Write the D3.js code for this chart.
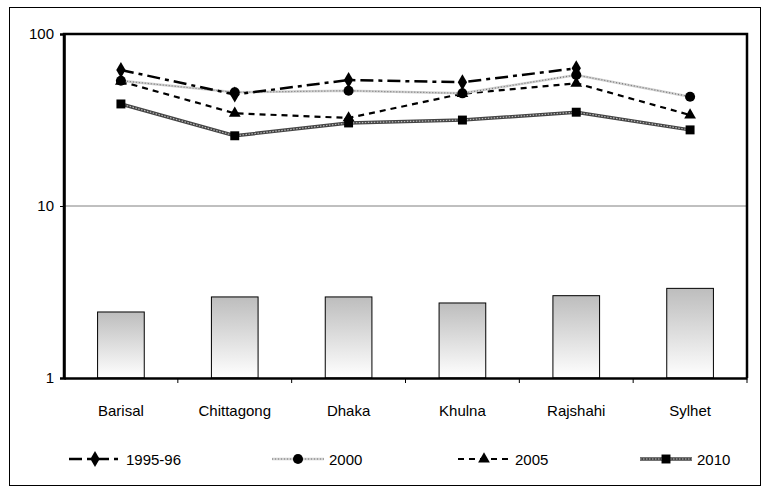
<!DOCTYPE html>
<html>
<head>
<meta charset="utf-8">
<title>Divisions</title>
<script src="https://d3js.org/d3.v7.min.js"></script>
<style>
  body { margin: 0; background: #fff; }
  text { font-family: "Liberation Sans", Arial, sans-serif; }
</style>
</head>
<body>
<div id="my_dataviz"></div>
<script>

// data
var categories = ["Barisal", "Chittagong", "Dhaka", "Khulna", "Rajshahi", "Sylhet"];
var barValues = [2.42, 2.96, 2.96, 2.73, 3.01, 3.32];
var s1995 = [61.8, 44.5, 54.0, 52.4, 63.2, null];
var s2000 = [53.5, 45.8, 46.8, 45.2, 57.8, 43.2];
var s2005 = [53.0, 34.6, 32.5, 45.0, 51.7, 33.8];
var s2010 = [39.2, 25.6, 30.4, 31.6, 35.1, 27.7];
var yTicks = [1, 10, 100];
var seriesNames = ["1995-96", "2000", "2005", "2010"];

var W = 769, H = 496;
var margin = {top: 34, right: 22, bottom: 118, left: 64},
    width = W - margin.left - margin.right,
    height = H - margin.top - margin.bottom;

var svg = d3.select("#my_dataviz")
  .append("svg")
    .attr("width", W)
    .attr("height", H);

// outer frame
svg.append("rect")
  .attr("x", 9.5).attr("y", 7.5)
  .attr("width", 751).attr("height", 478)
  .attr("fill", "none").attr("stroke", "#000").attr("stroke-width", 1);

var defs = svg.append("defs");
var grad = defs.append("linearGradient")
  .attr("id", "barGrad").attr("x1", 0).attr("y1", 0).attr("x2", 0).attr("y2", 1);
grad.append("stop").attr("offset", "0%").attr("stop-color", "#bdbdbd");
grad.append("stop").attr("offset", "100%").attr("stop-color", "#ffffff");

var g = svg.append("g")
  .attr("transform", "translate(" + margin.left + "," + margin.top + ")");

var x = d3.scaleBand().domain(categories).range([0, width]).padding(0);
var y = d3.scaleLog().domain([1, 100]).range([height, 0]);

// gridline at 10
g.append("line")
  .attr("x1", 0).attr("x2", width)
  .attr("y1", y(10)).attr("y2", y(10))
  .attr("stroke", "#808080").attr("stroke-width", 1);

// bars
var bw = x.step() * 0.41;
g.selectAll(".bar")
  .data(categories)
  .enter().append("rect")
    .attr("class", "bar")
    .attr("x", function(d) { return x(d) + x.step() / 2 - bw / 2; })
    .attr("y", function(d, i) { return y(barValues[i]); })
    .attr("width", bw)
    .attr("height", function(d, i) { return height - y(barValues[i]); })
    .attr("fill", "url(#barGrad)")
    .attr("stroke", "#000").attr("stroke-width", 1);

// plot frame
g.append("path")
  .attr("d", "M0," + height + "V0H" + width + "V" + height)
  .attr("fill", "none").attr("stroke", "#000").attr("stroke-width", 2.5);

// Y axis
var yAxis = g.append("g")
  .call(d3.axisLeft(y).tickValues(yTicks).tickFormat(d3.format("d")).tickSize(4).tickPadding(6));
yAxis.select(".domain").attr("stroke-width", 2.5);
yAxis.selectAll("text").attr("font-size", 15).attr("fill", "#000")
  .style("font-family", "Liberation Sans, Arial, sans-serif");

// X axis
var xAxis = g.append("g")
  .attr("transform", "translate(0," + height + ")")
  .call(d3.axisBottom(x).tickSize(0).tickPadding(27));
xAxis.select(".domain").attr("stroke-width", 2.5);
xAxis.selectAll("text").attr("font-size", 15).attr("fill", "#000")
  .style("font-family", "Liberation Sans, Arial, sans-serif");
// tick marks between categories
g.selectAll(".xtick")
  .data(categories.slice(1).concat(["end"]))
  .enter().append("line")
    .attr("x1", function(d, i) { return x.step() * (i + 1); })
    .attr("x2", function(d, i) { return x.step() * (i + 1); })
    .attr("y1", height).attr("y2", height + 5)
    .attr("stroke", "#000");

// line styles
var styles = [
  {data: s1995, layers: [{stroke: "#000", w: 2.5, dash: "13,5,4,5"}], marker: "diamond"},
  {data: s2000, layers: [{stroke: "#d0d0d0", w: 2.5, dash: null}, {stroke: "#777", w: 1.2, dash: "1,2"}], marker: "circle"},
  {data: s2005, layers: [{stroke: "#000", w: 2.2, dash: "6,5"}], marker: "triangle"},
  {data: s2010, layers: [{stroke: "#444", w: 3.5, dash: null}, {stroke: "#bbb", w: 1.2, dash: "1.5,1.5"}], marker: "square"}
];

var symbolType = {
  diamond: d3.symbolDiamond,
  circle: d3.symbolCircle,
  triangle: d3.symbolTriangle,
  square: d3.symbolSquare
};
var symbolSize = {diamond: 75, circle: 80, triangle: 60, square: 80};

var line = d3.line()
  .defined(function(d) { return d != null; })
  .x(function(d, i) { return x(categories[i]) + x.bandwidth() / 2; })
  .y(function(d) { return y(d); });

// draw series in reverse so 1995-96 ends on top
[3, 2, 1, 0].forEach(function(k) {
  var s = styles[k];
  s.layers.forEach(function(L) {
    g.append("path")
      .datum(s.data)
      .attr("fill", "none")
      .attr("stroke", L.stroke)
      .attr("stroke-width", L.w)
      .attr("stroke-dasharray", L.dash)
      .attr("d", line);
  });
  g.selectAll(".m" + k)
    .data(s.data)
    .enter().filter(function(d) { return d != null; })
    .append("path")
      .attr("transform", function(d) {
        var i = s.data.indexOf(d);
        return "translate(" + (x(categories[i]) + x.bandwidth() / 2) + "," + y(d) + ")";
      })
      .attr("d", d3.symbol().type(symbolType[s.marker]).size(symbolSize[s.marker]))
      .attr("fill", "#000");
});

// legend
var legX = [69, 272, 458, 640];
var legY = 459;
seriesNames.forEach(function(name, k) {
  var s = styles[k];
  var lg = svg.append("g").attr("transform", "translate(" + legX[k] + "," + legY + ")");
  s.layers.forEach(function(L) {
    lg.append("line")
      .attr("x1", 0).attr("x2", 52).attr("y1", 0).attr("y2", 0)
      .attr("stroke", L.stroke).attr("stroke-width", L.w)
      .attr("stroke-dasharray", L.dash);
  });
  lg.append("path")
    .attr("transform", "translate(26,0)")
    .attr("d", d3.symbol().type(symbolType[s.marker]).size(symbolSize[s.marker]))
    .attr("fill", "#000");
  lg.append("text")
    .attr("x", 57).attr("y", 5.5)
    .attr("font-size", 15)
    .attr("fill", "#000")
    .text(name);
});

</script>
</body>
</html>
